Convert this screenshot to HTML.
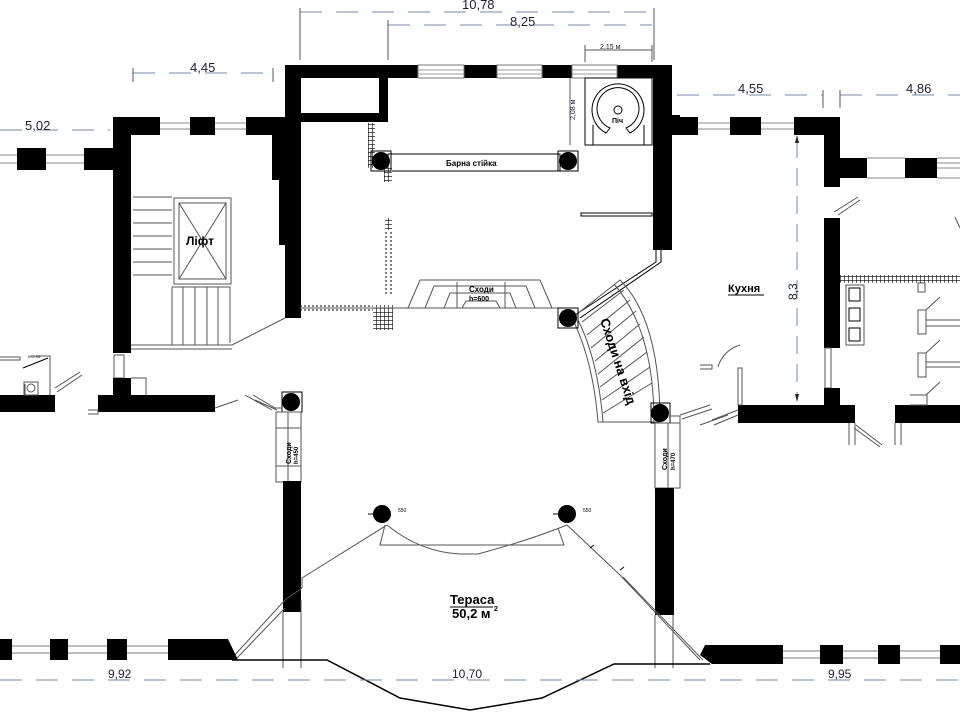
<!DOCTYPE html>
<html><head><meta charset="utf-8"><style>
html,body{margin:0;padding:0;background:#fff;}
svg{display:block;font-family:"Liberation Sans",sans-serif;}
.w{fill:#000}
.l{stroke:#000;stroke-width:1;fill:none}
.g{stroke:#555;stroke-width:1;fill:none}
.d{stroke:#7a88a8;stroke-width:1;stroke-dasharray:22 14;fill:none}
.dt{fill:#223}
.b{font-weight:bold;fill:#000}
</style></head><body>
<svg width="960" height="720" viewBox="0 0 960 720" xmlns="http://www.w3.org/2000/svg">
<defs>
<pattern id="hat" width="4" height="4" patternUnits="userSpaceOnUse"><rect width="4" height="4" fill="#fff"/><path d="M0 0H4M0 0V4" stroke="#000" stroke-width="1.2"/></pattern>
</defs>

<!-- dimensions top -->
<path class="d" d="M300 12H654M388 25H652M133 73H273M0 130H110M677 95H823M840 95H960"/>
<path class="g" d="M300 8V60M388 20V60M654 8V60M585 45V62M652 45V62M585 50H652M133 68V82M273 68V82M823 90V108M840 90V108M570 78V145"/>
<text class="dt" x="462" y="9" style="font-size:13px">10,78</text>
<text class="dt" x="510" y="26" style="font-size:13px">8,25</text>
<text class="dt" x="600" y="49" style="font-size:7px">2,15 м</text>
<text class="dt" x="190" y="72" style="font-size:13px">4,45</text>
<text class="dt" x="25" y="130" style="font-size:13px">5,02</text>
<text class="dt" x="738" y="93" style="font-size:13px">4,55</text>
<text class="dt" x="906" y="93" style="font-size:13px">4,86</text>
<text class="dt" x="575" y="120" style="font-size:7px" transform="rotate(-90 575 120)">2,08 м</text>

<!-- main hall top wall -->
<rect class="w" x="285" y="65" width="387" height="13"/>
<g fill="#fff" stroke="#777"><rect x="418" y="65" width="46" height="13"/><rect x="497" y="65" width="45" height="13"/><rect x="572" y="65" width="45" height="13"/></g>
<path stroke="#999" d="M418 70H464M418 74H464M497 70H542M497 74H542M572 70H617M572 74H617"/>
<rect class="w" x="285" y="65" width="16" height="253"/>
<rect class="w" x="272" y="117" width="14" height="63"/>
<rect class="w" x="279" y="180" width="7" height="65"/>
<rect class="w" x="300" y="113" width="88" height="9"/>
<rect class="w" x="379" y="78" width="9" height="44"/>
<rect class="w" x="653" y="65" width="19" height="185"/>
<rect class="w" x="672" y="115" width="8" height="20"/>
<path class="l" d="M656 250V262L575 315"/>
<path class="l" d="M661 250V262L580 318"/>

<!-- stair hall -->
<rect class="w" x="113" y="117" width="172" height="18"/>
<g fill="#fff"><rect x="160" y="117" width="30" height="18"/><rect x="215" y="117" width="31" height="18"/></g>
<path stroke="#888" d="M160 123H190M160 129H190M215 123H246M215 129H246"/>
<rect class="w" x="113" y="117" width="18" height="236"/>
<rect class="w" x="0" y="148" width="113" height="22"/>
<g fill="#fff"><rect x="0" y="148" width="17" height="22"/><rect x="46" y="148" width="38" height="22"/></g>
<path stroke="#888" d="M0 155H17M0 163H17M46 155H84M46 163H84"/>
<path class="g" d="M133 197H172M133 210H172M133 223H172M133 236H172M133 249H172M133 262H172M133 275H172"/>
<rect class="g" x="174" y="198" width="57" height="86"/>
<rect class="g" x="179" y="203" width="47" height="76"/>
<path class="g" d="M179 203L226 279M226 203L179 279"/>
<text class="b" x="186" y="245" style="font-size:12px">Ліфт</text>
<path class="g" d="M172 287H230V343M172 287V345M183 287V345M195 287V345M207 287V345M218 287V345M131 345H232L285 318M131 349H232"/>
<rect class="g" x="114" y="355" width="10" height="23"/>
<rect class="w" x="113" y="378" width="18" height="18"/>
<rect class="w" x="98" y="395" width="117" height="17"/>
<rect class="w" x="0" y="395" width="55" height="17"/>
<path class="g" d="M131 378H146V395M0 357H20V360H0M55 388L80 372M57 392L82 375M215 408L238 400M88 410H98V414H88M245 395L272 410M25 384V395M30 356H50V395"/>
<rect class="g" x="24" y="382" width="14" height="13"/><circle cx="31" cy="388" r="4" class="g"/>
<path class="l" d="M23 368L48 358"/>
<text x="28" y="358" style="font-size:4px" fill="#000">h=2,06</text>

<!-- bar -->
<rect class="l" x="388" y="154" width="172" height="17"/>
<text class="b" x="446" y="166" style="font-size:8px">Барна стійка</text>
<rect x="368" y="123" width="7" height="45" fill="url(#hat)"/>
<rect x="384" y="168" width="8" height="14" fill="url(#hat)"/>
<rect class="l" x="371" y="151" width="20" height="20"/><circle cx="381" cy="161" r="9" class="w"/>
<rect class="l" x="558" y="151" width="20" height="20"/><circle cx="568" cy="161" r="9" class="w"/>
<!-- oven -->
<rect class="l" x="585" y="78" width="67" height="67"/>
<path d="M606 133A26 26 0 1 1 630 133L626 128A21 21 0 1 0 610 128Z" fill="#fff" stroke="#000"/>
<path class="l" d="M593 125V145M644 125V145"/>
<circle cx="618" cy="110" r="4" class="l"/>
<text class="b" x="612" y="123" style="font-size:7px">Піч</text>
<rect class="l" x="581" y="213" width="71" height="3"/>
<rect x="385" y="218" width="7" height="12" fill="url(#hat)"/>
<path d="M386 232V295M391 232V295" stroke="#000" stroke-dasharray="2 2"/>
<rect x="373" y="305" width="20" height="25" fill="url(#hat)"/>
<path d="M300 306H373M300 310H373" stroke="#000" stroke-dasharray="2 2"/>
<!-- center stairs -->
<path class="g" d="M300 308H568M408 308L420 280H540L552 308M425 308L434 286H526L535 308M444 308L450 293H510L516 308M462 308L466 301H496L500 308M457 308V282M505 308V282"/>
<text class="b" x="469" y="292" style="font-size:8px">Сходи</text>
<text class="b" x="469" y="301" style="font-size:7px">h=600</text>
<!-- curved stairs -->
<path class="g" d="M572 318Q593 360 598 422H660Q660 320 620 280Z"/>
<path class="g" d="M578 320Q598 360 603 422M614 284Q654 330 654 422"/>
<path class="g" d="M582 322L624 290M587 335L630 300M591 348L636 311M595 361L640 324M598 374L644 337M600 387L647 352M602 400L650 367M603 413L652 383"/>
<text class="b" x="600" y="320" style="font-size:13px" transform="rotate(72 600 320)">Сходи на вхід</text>
<rect class="l" x="558" y="308" width="20" height="20"/><circle cx="568" cy="318" r="9" class="w"/>

<!-- side stairs -->
<rect class="l" x="282" y="392" width="20" height="20"/><circle cx="291" cy="402" r="9" class="w"/>
<rect class="g" x="276" y="412" width="25" height="70"/>
<path class="g" d="M276 428H301M276 466H301M288 412V482M253 395L275 408L282 408M255 400L277 410"/>
<text class="b" x="291" y="464" style="font-size:7px" transform="rotate(-90 291 464)">Сходи</text>
<text class="b" x="298" y="464" style="font-size:6px" transform="rotate(-90 298 464)">h=450</text>
<rect class="w" x="283" y="481" width="18" height="131"/>
<rect class="l" x="651" y="403" width="19" height="20"/><circle cx="660" cy="413" r="9" class="w"/>
<rect class="g" x="655" y="423" width="25" height="65"/>
<path class="g" d="M668 423V488M670 416H680V423M680 415L710 405M682 419L712 409M700 425L728 415"/>
<text class="b" x="667" y="470" style="font-size:7px" transform="rotate(-90 667 470)">Сходи</text>
<text class="b" x="675" y="470" style="font-size:6px" transform="rotate(-90 675 470)">h=470</text>
<rect class="w" x="655" y="488" width="19" height="127"/>

<!-- terrace -->
<circle cx="382" cy="514" r="9" class="w"/><circle cx="567" cy="514" r="9" class="w"/>
<text x="398" y="512" style="font-size:5px" fill="#000">550</text><text x="583" y="512" style="font-size:5px" fill="#000">550</text>
<path class="l" d="M368 514H373M553 514H558"/>
<path class="g" d="M387 525L302 578V588L285 600L232 658M236 659L285 608M385 525L380 545H564L558 528M387 525Q420 552 460 554L478 554Q530 540 567 525L620 575L700 660M623 577L703 660"/>
<path class="l" d="M590 548L594 545M620 570L624 567"/>
<path class="g" d="M283 612V668M301 600V668M655 615V668M673 615V668"/>
<text x="450" y="604" style="font-weight:bold;font-size:13px" fill="#000">Тераса</text>
<path class="l" d="M450 607H493"/>
<text x="452" y="618" style="font-weight:bold;font-size:13px" fill="#000">50,2 м</text><text x="494" y="611" style="font-size:7px;font-weight:bold">2</text>

<!-- bottom walls -->
<path class="w" d="M0 639H12V660H0ZM50 639H68V660H50ZM107 639H127V660H107ZM168 639H228L238 660H168Z"/>
<path stroke="#777" d="M12 646H50M12 653H50M68 646H107M68 653H107M127 646H168M127 653H168"/>
<path class="w" d="M705 645H783V664H712L700 655ZM820 645H843V664H820ZM878 645H900V664H878ZM940 645H960V664H940Z"/>
<path stroke="#777" d="M783 651H820M783 658H820M843 651H878M843 658H878M900 651H940M900 658H940"/>
<path stroke="#000" stroke-width="1.5" fill="none" d="M232 660H327L400 698L470 710L542 698L614 664H710"/>
<path class="d" d="M0 680H960"/>
<text class="dt" x="108" y="678" style="font-size:12px">9,92</text>
<text class="dt" x="452" y="678" style="font-size:12px">10,70</text>
<text class="dt" x="828" y="678" style="font-size:12px">9,95</text>

<!-- kitchen -->
<rect class="w" x="672" y="117" width="168" height="18"/>
<g fill="#fff"><rect x="698" y="117" width="32" height="18"/><rect x="761" y="117" width="33" height="18"/></g>
<path stroke="#888" d="M698 123H730M698 129H730M761 123H794M761 129H794"/>
<rect class="w" x="824" y="117" width="16" height="70"/>
<rect class="w" x="840" y="158" width="27" height="20"/>
<rect class="w" x="905" y="158" width="32" height="20"/>
<path stroke="#888" d="M867 158H905M867 178H905M937 158H960M937 163H960M937 168H960M937 178H960"/>
<path class="g" d="M834 212L858 197M838 215L860 200M955 217L960 228"/>
<rect class="w" x="824" y="218" width="16" height="130"/>
<rect class="g" x="825" y="348" width="6" height="40"/>
<rect class="w" x="824" y="388" width="16" height="18"/>
<rect class="w" x="738" y="405" width="117" height="18"/>
<rect class="w" x="895" y="405" width="65" height="18"/>
<rect x="840" y="275" width="120" height="8" fill="url(#hat)"/>
<rect class="g" x="846" y="285" width="18" height="60"/>
<g class="l"><rect x="849" y="288" width="11" height="13"/><rect x="849" y="308" width="11" height="13"/><rect x="849" y="328" width="11" height="13"/></g>
<path class="g" d="M918 283H925V292H918ZM918 310H926V334H918ZM918 353H926V377H918ZM910 395H927V405H910M926 310L940 297M926 353L940 340M926 395L940 382M926 320H960M926 326H960M926 362H960M926 367H960"/>
<path class="g" d="M849 423V445M855 423V445M895 423V445M901 423V445M856 425L882 445M854 428L880 447M742 368V405H738V368ZM740 345A32 32 0 0 0 718 367M700 365H712V369H700M712 420L738 410M714 425L738 415"/>
<text x="728" y="292" style="font-weight:bold;font-size:11px" fill="#000">Кухня</text>
<path class="l" d="M728 295H764"/>
<path class="d" d="M797 140V400" style="stroke-dasharray:18 10"/>
<path d="M797 135L795 143H799ZM797 402L795 394H799Z" fill="#223"/>
<text class="dt" x="797" y="300" style="font-size:12px" transform="rotate(-90 797 300)">8,3</text>
</svg>
</body></html>
